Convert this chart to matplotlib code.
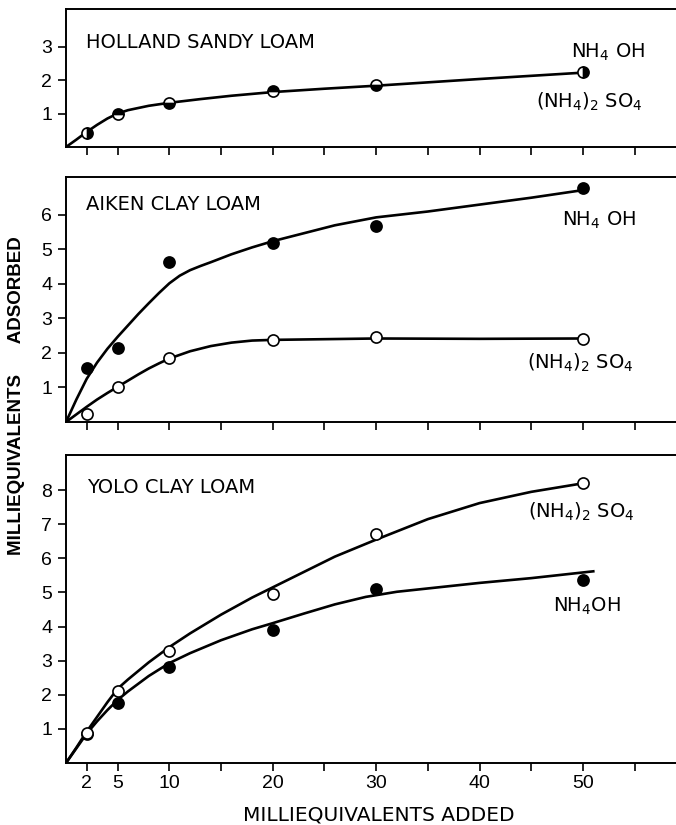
import matplotlib
matplotlib.use("Agg")
import matplotlib.pyplot as plt
from matplotlib import font_manager

names = {f.name for f in font_manager.fontManager.ttflist}
LAB = "Liberation Sans" if "Liberation Sans" in names else "DejaVu Sans"
plt.rcParams['font.family'] = ['DejaVu Sans']
plt.rcParams['mathtext.fontset'] = 'dejavusans'

# ---------------- data ----------------
x_added = [2, 5, 10, 20, 30, 50]

# Holland sandy loam (both salts coincide)
holland_nh4oh = [0.43, 1.00, 1.30, 1.66, 1.85, 2.25]
holland_so4 = [0.43, 1.00, 1.30, 1.66, 1.85, 2.25]
holland_curve_x = [0, 1, 2, 3, 4, 5, 6, 8, 10, 13, 16, 20, 25, 30, 40, 50]
holland_curve_y = [0, 0.22, 0.45, 0.66, 0.85, 1.0, 1.1, 1.23, 1.32, 1.43, 1.53, 1.64, 1.74, 1.83, 2.03, 2.22]

# Aiken clay loam
aiken_nh4oh = [1.57, 2.15, 4.63, 5.20, 5.68, 6.77]
aiken_so4 = [0.23, 1.02, 1.85, 2.37, 2.45, 2.41]
aiken_nh4oh_cx = [0, 1, 2, 3, 4, 5, 6, 7, 8, 9, 10, 11, 12, 13, 14, 16, 18, 20, 23, 26, 30, 35, 40, 45, 50]
aiken_nh4oh_cy = [0, 0.65, 1.25, 1.72, 2.12, 2.47, 2.8, 3.13, 3.44, 3.74, 4.02, 4.24, 4.4, 4.52, 4.63, 4.86, 5.06, 5.24, 5.47, 5.7, 5.93, 6.1, 6.3, 6.5, 6.72]
aiken_so4_cx = [0, 1, 2, 3, 4, 5, 6, 7, 8, 9, 10, 12, 14, 16, 18, 20, 30, 40, 50]
aiken_so4_cy = [0, 0.22, 0.44, 0.65, 0.84, 1.02, 1.2, 1.38, 1.55, 1.7, 1.84, 2.05, 2.2, 2.3, 2.36, 2.38, 2.42, 2.41, 2.42]

# Yolo clay loam
yolo_nh4oh = [0.86, 1.75, 2.81, 3.90, 5.10, 5.37]
yolo_so4 = [0.88, 2.11, 3.28, 4.96, 6.71, 8.21]
yolo_so4_cx = [0, 1, 2, 3, 4, 5, 6, 8, 10, 12, 15, 18, 20, 23, 26, 30, 35, 40, 45, 50]
yolo_so4_cy = [0, 0.45, 0.92, 1.35, 1.78, 2.18, 2.45, 2.95, 3.4, 3.8, 4.35, 4.85, 5.15, 5.6, 6.05, 6.55, 7.15, 7.62, 7.95, 8.2]
yolo_nh4oh_cx = [0, 1, 2, 3, 4, 5, 6, 8, 10, 12, 15, 18, 20, 23, 26, 29, 32, 36, 40, 45, 51]
yolo_nh4oh_cy = [0, 0.43, 0.86, 1.22, 1.55, 1.85, 2.1, 2.55, 2.93, 3.22, 3.6, 3.92, 4.1, 4.38, 4.65, 4.87, 5.02, 5.15, 5.28, 5.42, 5.62]

x_ticks = [2, 5, 10, 20, 30, 40, 50]
x_minor = [15, 25, 35, 45, 55]
holland_yticks = [1, 2, 3]
aiken_yticks = [1, 2, 3, 4, 5, 6]
yolo_yticks = [1, 2, 3, 4, 5, 6, 7, 8]
holland_fill = ['right', 'top', 'bottom', 'top', 'bottom', 'right']

# ---------------- figure ----------------
W, H = 676, 825
fig = plt.figure(figsize=(W / 100, H / 100), dpi=100)

def px_axes(top, bottom, left=66, right=676):
    return fig.add_axes([left / W, 1 - bottom / H, (right - left) / W, (bottom - top) / H])

ax1 = px_axes(9, 147)
ax2 = px_axes(177, 422)
ax3 = px_axes(455, 763)

LW = 1.9
MS = 8
MEW = 1.2
FS = 14
SO4 = r"(NH$_4$)$_2$ SO$_4$"

def style(ax, ymax, yticks, show_xlabels):
    ax.set_xlim(0, 59)
    ax.set_ylim(0, ymax)
    ax.spines['right'].set_visible(False)
    for s in ['left', 'top', 'bottom']:
        ax.spines[s].set_linewidth(1.4)
    ax.set_yticks(yticks)
    ax.set_yticklabels([str(t) for t in yticks], fontsize=14, family=LAB)
    ax.set_xticks(x_ticks)
    ax.set_xticks(x_minor, minor=True)
    if show_xlabels:
        ax.set_xticklabels([str(t) for t in x_ticks], fontsize=14, family=LAB)
    else:
        ax.set_xticklabels([])
    ax.tick_params(axis='both', which='both', direction='out', length=6, width=1.2, pad=4)
    ax.tick_params(axis='x', which='major', pad=3)

# Panel 1: Holland
style(ax1, 4.12, holland_yticks, False)
ax1.plot(holland_curve_x, holland_curve_y, color='black', lw=LW, zorder=2)
for xi, yi, fs in zip(x_added, holland_nh4oh, holland_fill):
    ax1.plot([xi], [yi], marker='o', ms=MS, mec='black', mew=MEW,
             mfc='black', mfcalt='white', fillstyle=fs, zorder=3, ls='none')
ax1.text(1.9, 2.97, "HOLLAND SANDY LOAM", fontsize=FS, va='baseline', ha='left')
ax1.text(48.8, 2.67, r"NH$_4$ OH", fontsize=FS, va='baseline', ha='left')
ax1.text(45.5, 1.18, SO4, fontsize=FS, va='baseline', ha='left')

# Panel 2: Aiken
style(ax2, 7.1, aiken_yticks, False)
ax2.plot(aiken_nh4oh_cx, aiken_nh4oh_cy, color='black', lw=LW, zorder=2)
ax2.plot(aiken_so4_cx, aiken_so4_cy, color='black', lw=LW, zorder=2)
ax2.plot(x_added, aiken_nh4oh, 'o', ms=MS, mec='black', mfc='black', mew=MEW, zorder=3)
ax2.plot(x_added, aiken_so4, 'o', ms=MS, mec='black', mfc='white', mew=MEW, zorder=3)
ax2.text(1.9, 6.13, "AIKEN CLAY LOAM", fontsize=FS, va='baseline', ha='left')
ax2.text(48.0, 5.7, r"NH$_4$ OH", fontsize=FS, va='baseline', ha='left')
ax2.text(44.6, 1.54, SO4, fontsize=FS, va='baseline', ha='left')

# Panel 3: Yolo
style(ax3, 9.03, yolo_yticks, True)
ax3.plot(yolo_so4_cx, yolo_so4_cy, color='black', lw=LW, zorder=2)
ax3.plot(yolo_nh4oh_cx, yolo_nh4oh_cy, color='black', lw=LW, zorder=2)
ax3.plot(x_added, yolo_nh4oh, 'o', ms=MS, mec='black', mfc='black', mew=MEW, zorder=3)
ax3.plot(x_added, yolo_so4, 'o', ms=MS, mec='black', mfc='white', mew=MEW, zorder=3)
ax3.text(2.0, 7.92, "YOLO CLAY LOAM", fontsize=FS, va='baseline', ha='left')
ax3.text(44.7, 7.18, SO4, fontsize=FS, va='baseline', ha='left')
ax3.text(47.1, 4.43, r"NH$_4$OH", fontsize=FS, va='baseline', ha='left')

fig.text(379 / W, 1 - 815 / H, "MILLIEQUIVALENTS ADDED", fontsize=14.5,
         ha='center', va='center')
fig.text(17 / W, 1 - 396 / H, "MILLIEQUIVALENTS      ADSORBED", rotation=90,
         fontsize=13.5, fontweight='bold', family=LAB, ha='center', va='center')

fig.savefig("out.png", dpi=100)
